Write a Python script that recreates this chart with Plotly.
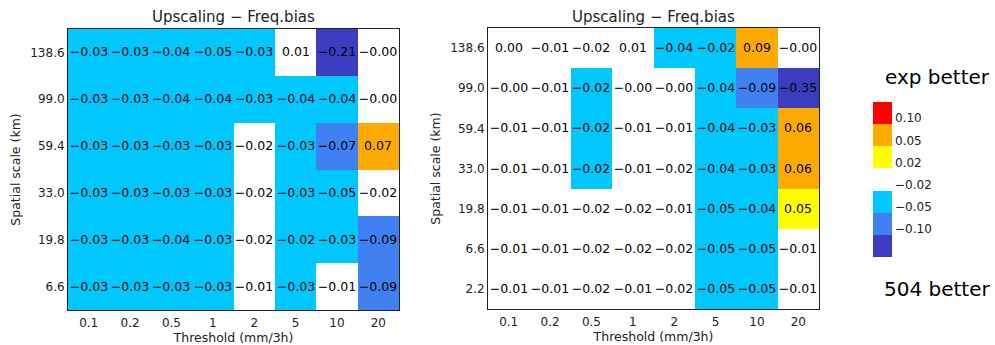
import plotly.graph_objects as go

thresholds = ["0.1", "0.2", "0.5", "1", "2", "5", "10", "20"]

# Left panel (rows listed top to bottom)
scales_left = ["138.6", "99.0", "59.4", "33.0", "19.8", "6.6"]
bias_left = [
    [-0.03, -0.03, -0.04, -0.05, -0.03, 0.01, -0.21, -0.001],
    [-0.03, -0.03, -0.04, -0.04, -0.03, -0.04, -0.04, -0.001],
    [-0.03, -0.03, -0.03, -0.03, -0.018, -0.03, -0.07, 0.07],
    [-0.03, -0.03, -0.03, -0.03, -0.018, -0.03, -0.05, -0.018],
    [-0.03, -0.03, -0.04, -0.03, -0.018, -0.022, -0.03, -0.09],
    [-0.03, -0.03, -0.03, -0.03, -0.01, -0.03, -0.01, -0.09],
]

# Right panel (rows listed top to bottom)
scales_right = ["138.6", "99.0", "59.4", "33.0", "19.8", "6.6", "2.2"]
bias_right = [
    [0.001, -0.01, -0.018, 0.01, -0.04, -0.022, 0.09, -0.001],
    [-0.001, -0.01, -0.022, -0.001, -0.001, -0.04, -0.09, -0.35],
    [-0.01, -0.01, -0.022, -0.01, -0.01, -0.04, -0.03, 0.06],
    [-0.01, -0.01, -0.022, -0.01, -0.018, -0.04, -0.03, 0.06],
    [-0.01, -0.01, -0.018, -0.018, -0.01, -0.05, -0.04, 0.048],
    [-0.01, -0.01, -0.018, -0.018, -0.018, -0.05, -0.05, -0.01],
    [-0.01, -0.01, -0.018, -0.01, -0.018, -0.05, -0.05, -0.01],
]

# Legend classes (bottom to top) and boundary labels
class_colors = ["#3C3CC0", "#4080F0", "#00C8FF", "#FFFFFF", "#FFFF00", "#FFAA00", "#FF0000"]
boundary_labels = ["−0.10", "−0.05", "−0.02", "0.02", "0.05", "0.10"]

FONT = "DejaVu Sans"


def classify(v):
    if v < -0.10:
        return 0
    if v < -0.05 - 1e-12:
        return 1
    if v < -0.02:
        return 2
    if v <= 0.02:
        return 3
    if v <= 0.05 + 1e-12:
        return 4
    if v <= 0.10:
        return 5
    return 6


def fmt(v):
    return f"{v:.2f}".replace("-", "−")


n = len(class_colors)
colorscale = []
for i, c in enumerate(class_colors):
    colorscale.append([i / n, c])
    colorscale.append([(i + 1) / n, c])


def heat(scales, data, xa, ya):
    rows_z = [[classify(v) for v in r] for r in data][::-1]
    rows_t = [[fmt(v) for v in r] for r in data][::-1]
    return go.Heatmap(
        x=thresholds, y=scales[::-1], z=rows_z, text=rows_t,
        texttemplate="%{text}", textfont=dict(family=FONT, size=12.5, color="black"),
        colorscale=colorscale, zmin=-0.5, zmax=n - 0.5, showscale=False,
        hoverinfo="text", xaxis=xa, yaxis=ya,
    )


fig = go.Figure()
fig.add_trace(heat(scales_left, bias_left, "x", "y"))
fig.add_trace(heat(scales_right, bias_right, "x2", "y2"))

# Legend colour boxes as a heatmap
leg_z = [[i] for i in range(n)]
fig.add_trace(go.Heatmap(
    x=[0], y=list(range(n)), z=leg_z, colorscale=colorscale,
    zmin=-0.5, zmax=n - 0.5, showscale=False, hoverinfo="skip",
    xaxis="x3", yaxis="y3",
))

axis_common = dict(
    showgrid=False, zeroline=False, showline=True, linecolor="#222222",
    linewidth=1, mirror=True, ticks="", tickfont=dict(family=FONT, size=12, color="#222222"),
    type="category",
)

xtitle = dict(text="Threshold (mm/3h)", font=dict(size=12.5), standoff=0)
ytitle = dict(text="Spatial scale (km)", font=dict(size=12.5), standoff=6)

fig.update_layout(
    width=995, height=345, margin=dict(l=0, r=0, t=0, b=0),
    paper_bgcolor="white", plot_bgcolor="white",
    font=dict(family=FONT, color="#222222"),
    xaxis=dict(domain=[68 / 995, 399 / 995], anchor="y", title=xtitle,
               ticklabelstandoff=2, **axis_common),
    yaxis=dict(domain=[35 / 345, 316 / 345], anchor="x", title=ytitle, **axis_common),
    xaxis2=dict(domain=[488 / 995, 819 / 995], anchor="y2", title=xtitle,
                ticklabelstandoff=2, **axis_common),
    yaxis2=dict(domain=[36 / 345, 317 / 345], anchor="x2", title=ytitle, **axis_common),
    xaxis3=dict(domain=[873 / 995, 892 / 995], anchor="y3", visible=False),
    yaxis3=dict(domain=[88 / 345, 243 / 345], anchor="x3", side="right",
                range=[-0.5, n - 0.5], showgrid=False, zeroline=False,
                showline=False, ticks="", ticklabelstandoff=2,
                tickvals=[i + 0.5 + 0.27 for i in range(len(boundary_labels))],
                ticktext=boundary_labels,
                tickfont=dict(family=FONT, size=12, color="#222222")),
)

for xd in ([68 / 995, 399 / 995], [488 / 995, 819 / 995]):
    fig.add_annotation(text="Upscaling − Freq.bias", x=(xd[0] + xd[1]) / 2,
                       y=1 - 17 / 345, xref="paper", yref="paper",
                       xanchor="center", yanchor="middle",
                       showarrow=False, font=dict(family=FONT, size=15, color="#222222"))

fig.add_annotation(text="exp better", x=937 / 995, y=1 - 77 / 345, xref="paper",
                   yref="paper", xanchor="center", yanchor="middle", showarrow=False,
                   font=dict(family=FONT, size=20, color="black"))
fig.add_annotation(text="504 better", x=937 / 995, y=1 - 289 / 345, xref="paper",
                   yref="paper", xanchor="center", yanchor="middle", showarrow=False,
                   font=dict(family=FONT, size=20, color="black"))

fig.write_html("out.html")
